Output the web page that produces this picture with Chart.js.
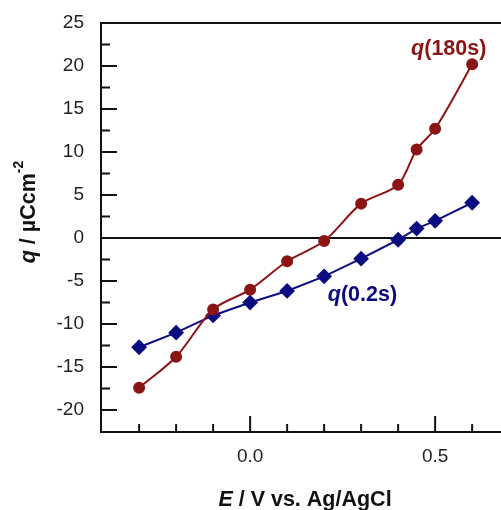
<!DOCTYPE html>
<html>
<head>
<meta charset="utf-8">
<script src="https://cdn.jsdelivr.net/npm/chart.js@4/dist/chart.umd.min.js"></script>
<style>
  html, body { margin: 0; padding: 0; background: #fff; }
  #wrap { width: 501px; height: 510px; }
</style>
</head>
<body>
<div id="wrap"><canvas id="qChart" width="501" height="510"></canvas></div>
<script>
// potentials (V vs. Ag/AgCl)
const potentials = [-0.3, -0.2, -0.1, 0.0, 0.1, 0.2, 0.3, 0.4, 0.45, 0.5, 0.6];
// charge density after 180 s and 0.2 s (µC cm-2)
const q180 = [-17.4, -13.8, -8.3, -6.0, -2.7, -0.35, 4.0, 6.2, 10.3, 12.7, 20.2];
const q02 = [-12.7, -11.0, -9.0, -7.5, -6.15, -4.45, -2.4, -0.2, 1.1, 2.0, 4.1];

const xTicks = [-0.3, -0.2, -0.1, 0.0, 0.1, 0.2, 0.3, 0.4, 0.5, 0.6];
const xLabels = {'0': '0.0', '0.5': '0.5'};
const yTicks = [-20, -17.5, -15, -12.5, -10, -7.5, -5, -2.5, 0, 2.5, 5, 7.5, 10, 12.5, 15, 17.5, 20, 22.5, 25];

const red = '#8c1414';
const blue = '#0c0c82';
const FONT = 'Arial, "Liberation Sans", sans-serif';

function pts(ys) {
  return potentials.map((x, i) => ({x: x, y: ys[i]}));
}

// draws a run of [text, fontStyle, size, dy] pieces starting at x
function drawRuns(ctx, runs, x, y, size) {
  runs.forEach(r => {
    const sz = r[2] || size;
    const dy = r[3] || 0;
    ctx.font = r[1] + ' ' + sz + 'px ' + FONT;
    ctx.fillText(r[0], x, y + dy);
    x += ctx.measureText(r[0]).width;
  });
}
function runsWidth(ctx, runs, size) {
  let w = 0;
  runs.forEach(r => {
    ctx.font = r[1] + ' ' + (r[2] || size) + 'px ' + FONT;
    w += ctx.measureText(r[0]).width;
  });
  return w;
}

const framePlugin = {
  id: 'frame',
  beforeDatasetsDraw(chart) {
    const {ctx, chartArea: a, scales} = chart;
    ctx.save();
    ctx.strokeStyle = '#111';
    ctx.lineWidth = 2;
    ctx.beginPath();
    ctx.moveTo(a.right + 2, a.top);
    ctx.lineTo(a.left, a.top);
    ctx.lineTo(a.left, a.bottom);
    ctx.lineTo(a.right + 2, a.bottom);
    const y0 = scales.y.getPixelForValue(0);
    ctx.moveTo(a.left, y0);
    ctx.lineTo(a.right + 2, y0);
    // y ticks, inward
    yTicks.forEach(v => {
      const py = scales.y.getPixelForValue(v);
      const len = (v % 5 === 0) ? 16 : 9;
      ctx.moveTo(a.left, py);
      ctx.lineTo(a.left + len, py);
    });
    // x ticks, inward
    xTicks.forEach(v => {
      const px = scales.x.getPixelForValue(v);
      const len = (Math.abs(v) < 1e-9 || Math.abs(v - 0.5) < 1e-9) ? 16 : 8;
      ctx.moveTo(px, a.bottom);
      ctx.lineTo(px, a.bottom - len);
    });
    ctx.stroke();

    // tick labels
    ctx.fillStyle = '#222';
    ctx.font = '19px ' + FONT;
    ctx.textBaseline = 'middle';
    ctx.textAlign = 'right';
    yTicks.filter(v => v % 5 === 0).forEach(v => {
      ctx.fillText(String(v), a.left - 17, scales.y.getPixelForValue(v));
    });
    ctx.textAlign = 'center';
    xTicks.forEach(v => {
      const t = xLabels[String(Math.round(v * 100) / 100)];
      if (t) ctx.fillText(t, scales.x.getPixelForValue(v), a.bottom + 25);
    });
    ctx.restore();
  },
  afterDraw(chart) {
    const {ctx, chartArea: a, scales} = chart;
    ctx.save();
    ctx.textBaseline = 'middle';
    // series labels
    ctx.fillStyle = red;
    drawRuns(ctx, [['q', 'italic bold'], ['(180s)', 'bold']],
      scales.x.getPixelForValue(0.435), scales.y.getPixelForValue(22.0), 21.5);
    ctx.fillStyle = blue;
    drawRuns(ctx, [['q', 'italic bold'], ['(0.2s)', 'bold']],
      scales.x.getPixelForValue(0.21), scales.y.getPixelForValue(-6.6), 21.5);

    // x title
    ctx.fillStyle = '#111';
    const xr = [['E', 'italic bold'], [' / V vs. Ag/AgCl', 'bold']];
    const xw = runsWidth(ctx, xr, 21.5);
    drawRuns(ctx, xr, (a.left + a.right) / 2 - xw / 2 + 4, 500, 21.5);

    // y title, rotated
    ctx.save();
    ctx.translate(29, 212);
    ctx.rotate(-Math.PI / 2);
    const yr = [['q', 'italic bold'], [' / µCcm', 'bold'], ['-2', 'bold', 14, -10]];
    const yw = runsWidth(ctx, yr, 21.5);
    drawRuns(ctx, yr, -yw / 2, 0, 21.5);
    ctx.restore();
    ctx.restore();
  }
};

new Chart('qChart', {
  type: 'scatter',
  data: {
    datasets: [{
      label: 'q(180s)',
      data: pts(q180),
      showLine: true,
      borderColor: red,
      backgroundColor: red,
      borderWidth: 2,
      pointStyle: 'circle',
      pointRadius: 5,
      tension: 0.3
    }, {
      label: 'q(0.2s)',
      data: pts(q02),
      showLine: true,
      borderColor: blue,
      backgroundColor: blue,
      borderWidth: 2,
      pointStyle: 'rectRot',
      pointRadius: 6.5,
      tension: 0
    }]
  },
  options: {
    responsive: false,
    animation: false,
    layout: {autoPadding: false, padding: {top: 23, right: 0, left: 0, bottom: 0}},
    plugins: {legend: {display: false}, tooltip: {enabled: false}},
    scales: {
      x: {
        type: 'linear',
        min: -0.403,
        max: 0.678,
        grid: {display: false, drawTicks: false},
        border: {display: false},
        ticks: {display: false},
        afterBuildTicks: s => { s.ticks = xTicks.map(v => ({value: v})); },
        afterFit: s => { s.height = 510 - 432; }
      },
      y: {
        min: -22.55,
        max: 25,
        grid: {display: false, drawTicks: false},
        border: {display: false},
        ticks: {display: false},
        afterBuildTicks: s => { s.ticks = yTicks.map(v => ({value: v})); },
        afterFit: s => { s.width = 101; }
      }
    }
  },
  plugins: [framePlugin]
});
</script>
</body>
</html>
